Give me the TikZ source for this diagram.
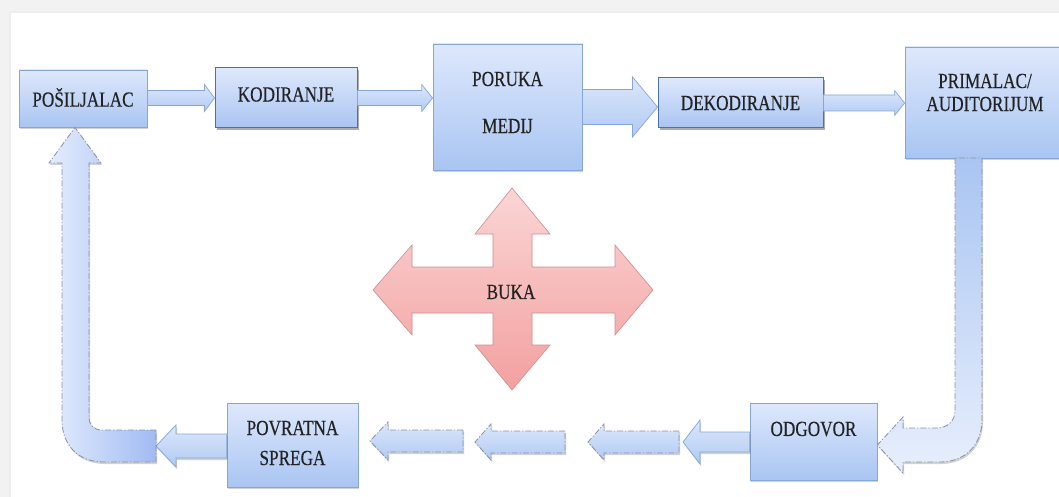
\documentclass[tikz,border=0pt]{standalone}
\usepackage{fontspec}
\setmainfont{Liberation Serif}[FakeStretch=0.8,FakeBold=0.3]
\usetikzlibrary{calc,shadows}

\definecolor{boxtop}{HTML}{DEE8FC}
\definecolor{boxbot}{HTML}{A9C5F2}
\definecolor{boxline}{HTML}{86A6D8}
\definecolor{boxdark}{HTML}{4E70AA}
\definecolor{arrtop}{HTML}{DCE7FB}
\definecolor{arrbot}{HTML}{B0CAF3}
\definecolor{dashline}{HTML}{8891A8}
\definecolor{noisetop}{HTML}{FBD5D5}
\definecolor{noisebot}{HTML}{F3A0A0}
\definecolor{noiseline}{HTML}{CC8E8E}
\definecolor{ink}{HTML}{222222}

% horizontal block arrow: [style]{tail}{tip}{shaft half width}{head half width}{head length}
\newcommand\hblock[6][]{%
  \path[#1] let \p1=(#2), \p2=(#3), \n1={sign(\x2-\x1)} in
    (\x1,\y2+#4) -- ({\x2-\n1*#6},\y2+#4) -- ({\x2-\n1*#6},\y2+#5) -- (\x2,\y2)
    -- ({\x2-\n1*#6},\y2-#5) -- ({\x2-\n1*#6},\y2-#4) -- (\x1,\y2-#4) -- cycle;}

\begin{document}
\begin{tikzpicture}[x=1pt,y=-1pt,
  softshadow/.style={drop shadow={shadow xshift=1pt,shadow yshift=-2pt,opacity=.25,fill=black!70}},
  box/.style={draw=boxline,line width=.8pt,top color=boxtop,bottom color=boxbot,softshadow,inner sep=0pt},
  boxstrong/.style={draw=boxdark,line width=1pt,top color=boxtop,bottom color=boxbot,inner sep=0pt,
    drop shadow={shadow xshift=1.5pt,shadow yshift=-2.5pt,opacity=.4,fill=black!80}},
  lbl/.style={font=\fontsize{21.5}{25}\selectfont,text=ink,align=center,inner sep=0pt},
  flow/.style={draw=boxline,line width=.7pt,top color=arrtop,bottom color=arrbot},
  backflow/.style={draw=dashline,line width=.8pt,dash pattern=on 6pt off 2pt on 1.2pt off 2pt,
    top color=arrtop,bottom color=arrbot,softshadow},
  noise/.style={draw=noiseline,line width=.6pt,top color=noisetop,bottom color=noisebot}
]
\useasboundingbox (0,0) rectangle (1059,497);
\clip (0,0) rectangle (1059,497);

% page background and white panel
\fill[black!5] (0,0) rectangle (1059,497);
\fill[black!7] (9,11) rectangle (1059,497);
\fill[white] (11,13) rectangle (1059,497);

% forward chain
\node[box, minimum width=128, minimum height=57,
      label={[lbl,yshift=1pt]center:POŠILJALAC}] (pos) at (83,98.5) {};
\node[boxstrong, minimum width=142, minimum height=60,
      label={[lbl,yshift=3.5pt]center:KODIRANJE}] (kod) at (286,98) {};
\node[box, minimum width=149, minimum height=126,
      label={[lbl,yshift=4.5pt]center:{PORUKA\\[22pt]MEDIJ}}] (por) at (507.5,107) {};
\node[boxstrong, minimum width=165, minimum height=50,
      label={[lbl]center:DEKODIRANJE}] (dek) at (740.5,103) {};
\node[box, minimum width=165, minimum height=111,
      label={[lbl,yshift=10pt,xshift=-2.5pt,font=\fontsize{21.5}{23}\selectfont]center:{PRIMALAC/\\AUDITORIJUM}}] (prim) at (987.5,102.5) {};

% return chain
\node[box, minimum width=127, minimum height=77,
      label={[lbl,yshift=12.5pt]center:ODGOVOR}] (odg) at (813.5,441.5) {};
\node[box, minimum width=131, minimum height=84,
      label={[lbl,yshift=2pt]center:{POVRATNA\\[5pt]SPREGA}}] (pov) at (292.5,445) {};

% forward block arrows
\hblock[flow]{pos.east}{kod.west}{7.5pt}{13.5pt}{10pt}
\hblock[flow]{kod.east}{por.west |- kod.east}{7.5pt}{13.5pt}{11pt}
\hblock[flow]{por.east}{dek.west |- por.east}{17.5pt}{30pt}{25pt}
\hblock[flow]{dek.east}{prim.west |- dek.east}{8pt}{12.5pt}{10pt}

% return path coordinates
\coordinate (odgtip) at (683,442);
\coordinate (b1tail) at (679,442);
\coordinate (b1tip)  at (588,442);
\coordinate (b2tail) at (565,442);
\coordinate (b2tip)  at (475,442);
\coordinate (b3tail) at (463,441);
\coordinate (b3tip)  at (370,441);
\coordinate (lend)   at (156,446);

% response from the receiver: bent arrow down and left into ODGOVOR
\path[backflow, top color=boxbot, bottom color=boxtop!70!white]
  (955,158) -- (955,410) .. controls (955,422) and (947,428) .. (936,428)
  -- (903,428) -- (903,417) -- (odg.east |- 0,445) -- (903,473) -- (903,462)
  -- (940,462) .. controls (965,462) and (982,445) .. (982,420) -- (982,158) -- cycle;

\hblock[flow,softshadow]{odg.west}{odgtip}{10pt}{22pt}{17pt}
\hblock[backflow]{b1tail}{b1tip}{11pt}{18pt}{16pt}
\hblock[backflow]{b2tail}{b2tip}{11pt}{18pt}{16pt}
\hblock[backflow]{b3tail}{b3tip}{11pt}{19pt}{18pt}
\hblock[flow,softshadow]{pov.west}{lend}{12pt}{21pt}{20pt}

% feedback: bent arrow left and up into POŠILJALAC
\path[backflow, left color=boxtop!80!white, right color=boxbot!95!blue]
  (156,430) -- (102,430) .. controls (94,430) and (89,425) .. (89,417)
  -- (89,163) -- (101,163) -- (pos.south -| 75,0) -- (49,163) -- (62,163)
  -- (62,420) .. controls (62,445) and (78,462) .. (104,462) -- (156,462) -- cycle;

% noise cross
\path[noise]
  (512,188) -- (550,234) -- (532,234) -- (532,267) -- (615,267) -- (615,245)
  -- (653,290) -- (615,335) -- (615,313) -- (532,313) -- (532,345) -- (550,345)
  -- (512,390) -- (475,345) -- (493,345) -- (493,313) -- (412,313) -- (412,335)
  -- (373,290) -- (412,245) -- (412,267) -- (493,267) -- (493,234) -- (475,234) -- cycle;
\node[lbl] (buka) at (511,292) {BUKA};
\end{tikzpicture}
\end{document}
